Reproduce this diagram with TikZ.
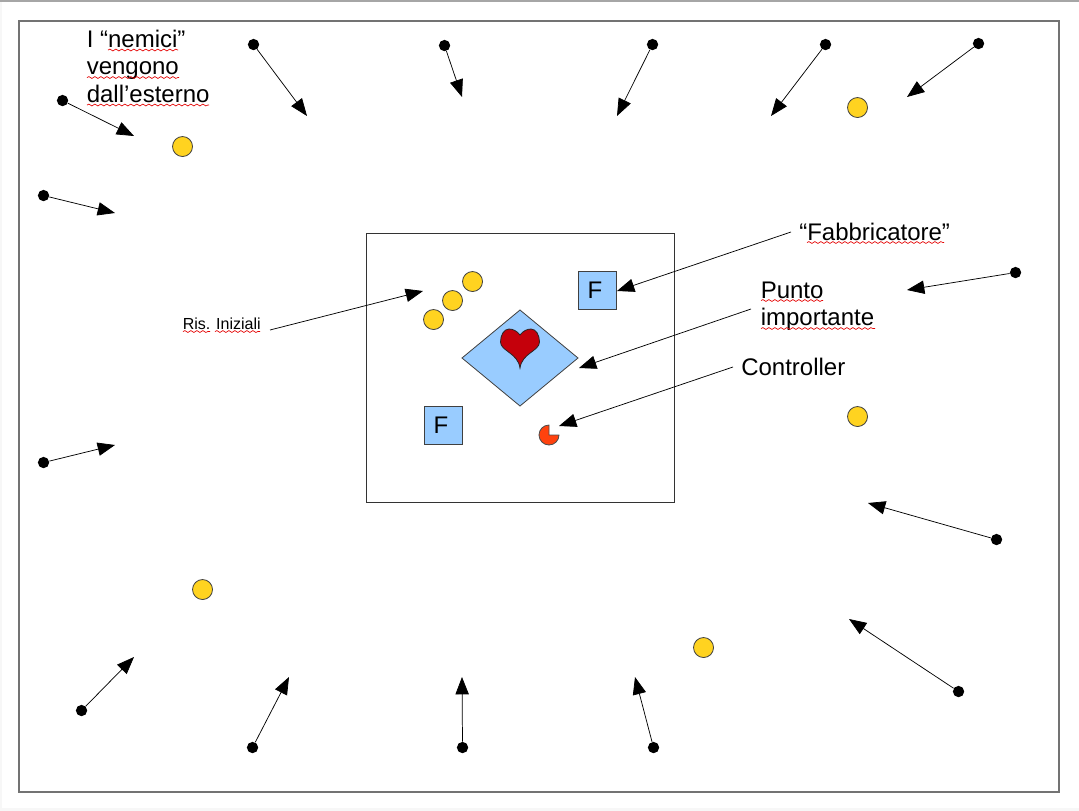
\documentclass[tikz,border=0pt]{standalone}
\usepackage{fontspec}
\setmainfont{Liberation Sans}
\usepackage{xcolor}
\usepackage{tikz}
\usetikzlibrary{
  arrows.meta,
  decorations.pathmorphing
}
\definecolor{risorsa}{HTML}{FFD320}
\definecolor{azzurro}{HTML}{99CCFF}
\definecolor{cuore}{HTML}{C5000B}
\definecolor{arancio}{HTML}{FF420E}

\begin{document}
\begin{tikzpicture}[
      x=0.75pt, y=-0.75pt,
      freccia/.style={-{Triangle[length=13pt,width=10pt]}, black, line width=0.55pt},
      nemico/.style={circle, fill=black, inner sep=0pt, minimum size=8.5pt, xshift=0.4pt, yshift=-0.4pt},
      risorsa/.style={circle, draw=black!75, fill=risorsa, line width=0.6pt, inner sep=0pt, minimum size=15pt, xshift=0.4pt, yshift=-0.4pt},
      fabbrica/.style={rectangle, draw=black!75, fill=azzurro, line width=0.6pt, inner sep=0pt, minimum size=28.5pt, font=\fontsize{18}{18}\selectfont},
      testo/.style={anchor=base west, inner sep=0pt, font=\fontsize{18}{18}\selectfont},
      piccolo/.style={anchor=base west, inner sep=0pt, font=\fontsize{12}{12}\selectfont},
      onda/.style={red!90!black, line width=0.5pt, decorate, decoration={snake, amplitude=0.7pt, segment length=4.5pt}}
  ]
      \useasboundingbox (0,0) rectangle (1079,811);
      \fill[black!3] (0,0) rectangle (1079,811);
      \fill[white] (2,2) rectangle (1079,808);
      \draw[black!35, line width=1.2pt] (0,0.8) -- (1079,0.8);

      % Cornici
      \draw[black!55, line width=1.1pt] (19,21) rectangle (1059,792);
      \draw[black!80, line width=0.6pt] (366,233) rectangle (674,502);

      % Nemici dall'esterno
      \foreach \nome/\xa/\ya/\xb/\yb in {
          n1/253/44/307/116, n2/444/45/462/97, n3/652/44/617/116, n4/825/44/771/116,
          n5/978/43/907/97, n6/62/100/134/136, n7/43/195/115/213, n8/1015/272/907/290,
          n9/43/462/115/445, n10/996/539/868/503, n11/958/691/849/619, n12/81/710/134/657,
          n13/252/747/289/677, n14/462/747/462/677, n15/653/747/635/677}
      {
          \node[nemico] (\nome) at (\xa,\ya) {};
          \coordinate (\nome t) at (\xb,\yb);
          \draw[freccia] (\nome) -- (\nome t);
      }

      % Risorse
      \foreach \nome/\xa/\ya in {
          r1/182/146, r2/857/107, r3/857/416, r4/202/589, r5/703/647,
          r6/433/319, r7/452/300, r8/472/281}
      {
          \node[risorsa] (\nome) at (\xa,\ya) {};
      }

      % Centro
      \node[fabbrica] (f1) at (597,290.5) {F\kern3pt};
      \node[fabbrica] (f2) at (443,425.5) {F\kern3pt};
      \draw[black!75, fill=azzurro, line width=0.6pt] (520,310) -- (578,358) -- (520,406) -- (462,358) -- cycle;
      \draw[black!85, fill=cuore, line width=0.6pt] (520,335)
          .. controls (517,331) and (513,329) .. (509,329)
          .. controls (504,329) and (500.5,335) .. (500.5,342)
          .. controls (500.5,351) and (518,353) .. (520,368)
          .. controls (522,353) and (539.5,351) .. (539.5,342)
          .. controls (539.5,335) and (536,329) .. (531,329)
          .. controls (527,329) and (523,331) .. (520,335) -- cycle;
      \draw[black!70, fill=arancio, line width=0.6pt] (549,435) -- (549,425)
          arc[start angle=90, end angle=360, radius=7.5pt] -- cycle;

      % Etichette
      \node[testo] (lnemici) at (86.5,47) {I “nemici”};
      \node[testo] (lvengono) at (86.5,74.5) {vengono};
      \node[testo] (lesterno) at (86.5,102) {dall’esterno};
      \node[testo] (lfab) at (799,240) {“Fabbricatore”};
      \node[testo] (lpunto) at (760.5,298) {Punto};
      \node[testo] (limp) at (760.5,325) {importante};
      \node[testo] (lcontr) at (741,375) {Controller};
      \node[piccolo] (lris) at (182.5,329) {Ris. Iniziali};

      % Sottolineature
      \draw[onda] (108,50) -- (178,50);
      \draw[onda] (87,77.5) -- (179,77.5);
      \draw[onda] (87,105) -- (209,105);
      \draw[onda] (807,242.5) -- (944,242.5);
      \draw[onda] (761,300.5) -- (823,300.5);
      \draw[onda] (761,328.5) -- (875,328.5);
      \draw[onda] (183,331.5) -- (210,331.5);
      \draw[onda] (215,331.5) -- (260,331.5);

      % Frecce verso il centro
      \coordinate (cris) at (270,330);
      \coordinate (tris) at (423,291);
      \coordinate (cfab) at (791,232);
      \coordinate (tfab) at (617,291);
      \coordinate (cpunto) at (751,309);
      \coordinate (tpunto) at (579,368);
      \coordinate (ccontr) at (733,367);
      \coordinate (tcontr) at (559,426);
      \draw[freccia] (cris) -- (tris);
      \draw[freccia] (cfab) -- (tfab);
      \draw[freccia] (cpunto) -- (tpunto);
      \draw[freccia] (ccontr) -- (tcontr);
  \end{tikzpicture}
\end{document}
